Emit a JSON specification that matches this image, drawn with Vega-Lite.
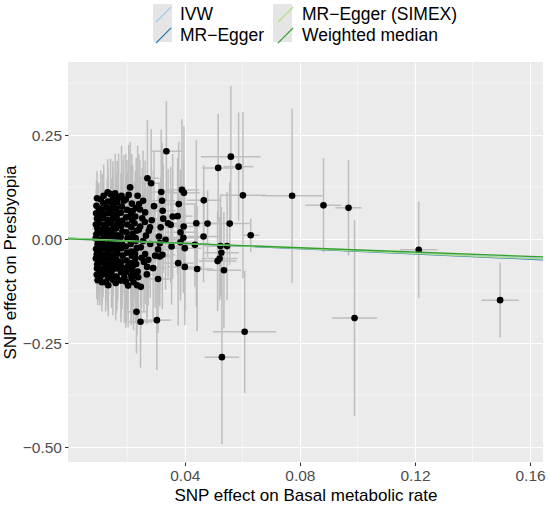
{
  "$schema": "https://vega.github.io/schema/vega-lite/v6.json",
  "width": 475,
  "height": 400,
  "autosize": {"type": "none"},
  "padding": {"left": 68, "top": 62, "right": 7, "bottom": 44},
  "background": "white",
  "config": {
    "font": "Liberation Sans",
    "view": {"fill": "#EBEBEB", "stroke": null},
    "axis": {
      "domain": false,
      "gridColor": "white",
      "gridWidth": 1.1,
      "tickColor": "#333333",
      "tickSize": 3.5,
      "tickWidth": 1,
      "labelColor": "#4D4D4D",
      "labelFontSize": 15.5,
      "labelPadding": 3,
      "titleColor": "black",
      "titleFontSize": 17,
      "titleFontWeight": "normal",
      "titlePadding": 3
    },
    "legend": {
      "labelFont": "Liberation Sans",
      "labelFontSize": 17.5,
      "labelColor": "black",
      "padding": 0,
      "gridAlign": "each"
    }
  },
  "datasets": {
    "gx": [{"x": 0.02}, {"x": 0.06}, {"x": 0.10}, {"x": 0.14}],
    "gy": [{"y": 0.375}, {"y": 0.125}, {"y": -0.125}, {"y": -0.375}],
    "keys": [
      {"key": "IVW\u200b", "x": 0.1, "y": 0.1},
      {"key": "MR−Egger\u200b", "x": 0.1, "y": 0.1},
      {"key": "MR−Egger (SIMEX)\u200b", "x": 0.1, "y": 0.1},
      {"key": "Weighted median\u200b", "x": 0.1, "y": 0.1}
    ],
    "fit": [
      {"method": "IVW", "x": -0.0006, "y": 0.0002},
      {"method": "IVW", "x": 0.1645, "y": -0.0459},
      {"method": "MR−Egger", "x": -0.0006, "y": 0.0022},
      {"method": "MR−Egger", "x": 0.1645, "y": -0.0500},
      {"method": "MR−Egger (SIMEX)", "x": -0.0006, "y": 0.0018},
      {"method": "MR−Egger (SIMEX)", "x": 0.1645, "y": -0.0485},
      {"method": "Weighted median", "x": -0.0006, "y": 0.0001},
      {"method": "Weighted median", "x": 0.1645, "y": -0.0430}
    ],
    "snp": [
      {"x": 0.0092, "y": 0.062, "ex": 0.0012, "ey": 0.055},
      {"x": 0.0095, "y": 0.049, "ex": 0.0015, "ey": 0.07},
      {"x": 0.0091, "y": 0.035, "ex": 0.0010, "ey": 0.045},
      {"x": 0.0096, "y": 0.025, "ex": 0.0018, "ey": 0.06},
      {"x": 0.0093, "y": 0.011, "ex": 0.0012, "ey": 0.05},
      {"x": 0.0090, "y": 0.001, "ex": 0.0014, "ey": 0.065},
      {"x": 0.0097, "y": -0.013, "ex": 0.0011, "ey": 0.048},
      {"x": 0.0092, "y": -0.024, "ex": 0.0016, "ey": 0.058},
      {"x": 0.0094, "y": -0.037, "ex": 0.0013, "ey": 0.052},
      {"x": 0.0091, "y": -0.047, "ex": 0.0012, "ey": 0.062},
      {"x": 0.0096, "y": -0.061, "ex": 0.0015, "ey": 0.05},
      {"x": 0.0095, "y": -0.071, "ex": 0.0014, "ey": 0.056},
      {"x": 0.0093, "y": 0.080, "ex": 0.0013, "ey": 0.06},
      {"x": 0.0094, "y": -0.086, "ex": 0.0014, "ey": 0.058},
      {"x": 0.0101, "y": 0.074, "ex": 0.0015, "ey": 0.06},
      {"x": 0.0098, "y": 0.061, "ex": 0.0018, "ey": 0.075},
      {"x": 0.0103, "y": 0.047, "ex": 0.0013, "ey": 0.05},
      {"x": 0.0099, "y": 0.037, "ex": 0.0016, "ey": 0.068},
      {"x": 0.0102, "y": 0.023, "ex": 0.0014, "ey": 0.055},
      {"x": 0.0097, "y": 0.013, "ex": 0.0019, "ey": 0.08},
      {"x": 0.0104, "y": -0.002, "ex": 0.0012, "ey": 0.06},
      {"x": 0.0100, "y": -0.011, "ex": 0.0017, "ey": 0.07},
      {"x": 0.0098, "y": -0.025, "ex": 0.0015, "ey": 0.052},
      {"x": 0.0103, "y": -0.035, "ex": 0.0013, "ey": 0.064},
      {"x": 0.0101, "y": -0.049, "ex": 0.0018, "ey": 0.058},
      {"x": 0.0099, "y": -0.059, "ex": 0.0016, "ey": 0.072},
      {"x": 0.0104, "y": -0.073, "ex": 0.0014, "ey": 0.06},
      {"x": 0.0102, "y": -0.083, "ex": 0.0017, "ey": 0.066},
      {"x": 0.0117, "y": 0.086, "ex": 0.0016, "ey": 0.07},
      {"x": 0.0114, "y": 0.071, "ex": 0.0020, "ey": 0.085},
      {"x": 0.0118, "y": 0.059, "ex": 0.0014, "ey": 0.06},
      {"x": 0.0115, "y": 0.050, "ex": 0.0018, "ey": 0.078},
      {"x": 0.0119, "y": 0.034, "ex": 0.0015, "ey": 0.058},
      {"x": 0.0113, "y": 0.022, "ex": 0.0021, "ey": 0.09},
      {"x": 0.0117, "y": 0.010, "ex": 0.0017, "ey": 0.065},
      {"x": 0.0116, "y": -0.001, "ex": 0.0019, "ey": 0.072},
      {"x": 0.0120, "y": -0.014, "ex": 0.0014, "ey": 0.06},
      {"x": 0.0114, "y": -0.023, "ex": 0.0016, "ey": 0.082},
      {"x": 0.0118, "y": -0.038, "ex": 0.0020, "ey": 0.066},
      {"x": 0.0115, "y": -0.050, "ex": 0.0015, "ey": 0.074},
      {"x": 0.0119, "y": -0.058, "ex": 0.0018, "ey": 0.06},
      {"x": 0.0116, "y": -0.072, "ex": 0.0017, "ey": 0.068},
      {"x": 0.0113, "y": -0.086, "ex": 0.0015, "ey": 0.07},
      {"x": 0.0133, "y": 0.090, "ex": 0.0020, "ey": 0.08},
      {"x": 0.0130, "y": 0.075, "ex": 0.0018, "ey": 0.068},
      {"x": 0.0134, "y": 0.062, "ex": 0.0022, "ey": 0.09},
      {"x": 0.0131, "y": 0.046, "ex": 0.0016, "ey": 0.062},
      {"x": 0.0135, "y": 0.038, "ex": 0.0019, "ey": 0.075},
      {"x": 0.0129, "y": 0.024, "ex": 0.0021, "ey": 0.085},
      {"x": 0.0133, "y": 0.012, "ex": 0.0017, "ey": 0.066},
      {"x": 0.0132, "y": 0.002, "ex": 0.0020, "ey": 0.078},
      {"x": 0.0136, "y": -0.012, "ex": 0.0018, "ey": 0.07},
      {"x": 0.0130, "y": -0.026, "ex": 0.0022, "ey": 0.088},
      {"x": 0.0134, "y": -0.036, "ex": 0.0016, "ey": 0.064},
      {"x": 0.0131, "y": -0.047, "ex": 0.0019, "ey": 0.08},
      {"x": 0.0135, "y": -0.061, "ex": 0.0021, "ey": 0.072},
      {"x": 0.0132, "y": -0.070, "ex": 0.0018, "ey": 0.09},
      {"x": 0.0129, "y": -0.083, "ex": 0.0017, "ey": 0.068},
      {"x": 0.0133, "y": -0.095, "ex": 0.0020, "ey": 0.075},
      {"x": 0.0149, "y": 0.083, "ex": 0.0021, "ey": 0.09},
      {"x": 0.0146, "y": 0.070, "ex": 0.0019, "ey": 0.075},
      {"x": 0.0150, "y": 0.058, "ex": 0.0023, "ey": 0.095},
      {"x": 0.0147, "y": 0.047, "ex": 0.0018, "ey": 0.07},
      {"x": 0.0151, "y": 0.033, "ex": 0.0022, "ey": 0.085},
      {"x": 0.0145, "y": 0.021, "ex": 0.0020, "ey": 0.1},
      {"x": 0.0149, "y": 0.011, "ex": 0.0019, "ey": 0.078},
      {"x": 0.0148, "y": -0.003, "ex": 0.0024, "ey": 0.088},
      {"x": 0.0152, "y": -0.013, "ex": 0.0018, "ey": 0.074},
      {"x": 0.0146, "y": -0.024, "ex": 0.0021, "ey": 0.095},
      {"x": 0.0150, "y": -0.039, "ex": 0.0019, "ey": 0.08},
      {"x": 0.0147, "y": -0.048, "ex": 0.0023, "ey": 0.086},
      {"x": 0.0151, "y": -0.060, "ex": 0.0020, "ey": 0.076},
      {"x": 0.0148, "y": -0.074, "ex": 0.0022, "ey": 0.092},
      {"x": 0.0145, "y": -0.085, "ex": 0.0019, "ey": 0.08},
      {"x": 0.0165, "y": 0.088, "ex": 0.0024, "ey": 0.1},
      {"x": 0.0162, "y": 0.073, "ex": 0.0021, "ey": 0.085},
      {"x": 0.0166, "y": 0.060, "ex": 0.0025, "ey": 0.105},
      {"x": 0.0163, "y": 0.049, "ex": 0.0020, "ey": 0.08},
      {"x": 0.0167, "y": 0.036, "ex": 0.0023, "ey": 0.095},
      {"x": 0.0161, "y": 0.025, "ex": 0.0022, "ey": 0.11},
      {"x": 0.0165, "y": 0.009, "ex": 0.0021, "ey": 0.088},
      {"x": 0.0164, "y": 0.000, "ex": 0.0026, "ey": 0.098},
      {"x": 0.0168, "y": -0.015, "ex": 0.0020, "ey": 0.084},
      {"x": 0.0162, "y": -0.027, "ex": 0.0023, "ey": 0.105},
      {"x": 0.0166, "y": -0.035, "ex": 0.0021, "ey": 0.09},
      {"x": 0.0163, "y": -0.050, "ex": 0.0025, "ey": 0.096},
      {"x": 0.0167, "y": -0.062, "ex": 0.0022, "ey": 0.086},
      {"x": 0.0164, "y": -0.071, "ex": 0.0024, "ey": 0.1},
      {"x": 0.0161, "y": -0.090, "ex": 0.0021, "ey": 0.09},
      {"x": 0.0181, "y": 0.078, "ex": 0.0026, "ey": 0.11},
      {"x": 0.0178, "y": 0.063, "ex": 0.0023, "ey": 0.095},
      {"x": 0.0182, "y": 0.044, "ex": 0.0027, "ey": 0.115},
      {"x": 0.0179, "y": 0.031, "ex": 0.0022, "ey": 0.09},
      {"x": 0.0183, "y": 0.018, "ex": 0.0025, "ey": 0.105},
      {"x": 0.0177, "y": 0.005, "ex": 0.0024, "ey": 0.12},
      {"x": 0.0181, "y": -0.010, "ex": 0.0023, "ey": 0.098},
      {"x": 0.0180, "y": -0.022, "ex": 0.0028, "ey": 0.108},
      {"x": 0.0184, "y": -0.040, "ex": 0.0022, "ey": 0.094},
      {"x": 0.0178, "y": -0.055, "ex": 0.0025, "ey": 0.115},
      {"x": 0.0182, "y": -0.068, "ex": 0.0023, "ey": 0.1},
      {"x": 0.0179, "y": -0.080, "ex": 0.0027, "ey": 0.106},
      {"x": 0.0199, "y": 0.070, "ex": 0.0028, "ey": 0.12},
      {"x": 0.0196, "y": 0.052, "ex": 0.0025, "ey": 0.1},
      {"x": 0.0200, "y": 0.035, "ex": 0.0029, "ey": 0.125},
      {"x": 0.0197, "y": 0.016, "ex": 0.0024, "ey": 0.105},
      {"x": 0.0201, "y": 0.002, "ex": 0.0027, "ey": 0.115},
      {"x": 0.0195, "y": -0.018, "ex": 0.0026, "ey": 0.13},
      {"x": 0.0199, "y": -0.033, "ex": 0.0025, "ey": 0.108},
      {"x": 0.0198, "y": -0.052, "ex": 0.0030, "ey": 0.118},
      {"x": 0.0202, "y": -0.066, "ex": 0.0024, "ey": 0.104},
      {"x": 0.0196, "y": -0.079, "ex": 0.0027, "ey": 0.12},
      {"x": 0.0216, "y": 0.085, "ex": 0.0029, "ey": 0.12},
      {"x": 0.0213, "y": 0.066, "ex": 0.0027, "ey": 0.11},
      {"x": 0.0217, "y": 0.045, "ex": 0.0030, "ey": 0.125},
      {"x": 0.0214, "y": 0.028, "ex": 0.0026, "ey": 0.105},
      {"x": 0.0218, "y": 0.004, "ex": 0.0029, "ey": 0.115},
      {"x": 0.0212, "y": -0.012, "ex": 0.0028, "ey": 0.12},
      {"x": 0.0216, "y": -0.040, "ex": 0.0027, "ey": 0.11},
      {"x": 0.0213, "y": -0.058, "ex": 0.0030, "ey": 0.118},
      {"x": 0.0217, "y": -0.075, "ex": 0.0028, "ey": 0.108},
      {"x": 0.0214, "y": -0.088, "ex": 0.0029, "ey": 0.12},
      {"x": 0.0231, "y": 0.075, "ex": 0.0032, "ey": 0.12},
      {"x": 0.0228, "y": 0.054, "ex": 0.0031, "ey": 0.11},
      {"x": 0.0232, "y": 0.020, "ex": 0.0033, "ey": 0.125},
      {"x": 0.0229, "y": 0.002, "ex": 0.0030, "ey": 0.115},
      {"x": 0.0233, "y": -0.022, "ex": 0.0032, "ey": 0.12},
      {"x": 0.0227, "y": -0.035, "ex": 0.0031, "ey": 0.11},
      {"x": 0.0231, "y": -0.060, "ex": 0.0033, "ey": 0.125},
      {"x": 0.0229, "y": -0.088, "ex": 0.0030, "ey": 0.115},
      {"x": 0.0095, "y": 0.098, "ex": 0.0014, "ey": 0.065},
      {"x": 0.0118, "y": 0.104, "ex": 0.0017, "ey": 0.075},
      {"x": 0.0158, "y": 0.110, "ex": 0.0022, "ey": 0.095},
      {"x": 0.0188, "y": 0.092, "ex": 0.0026, "ey": 0.11},
      {"x": 0.0205, "y": 0.106, "ex": 0.0028, "ey": 0.12},
      {"x": 0.0097, "y": -0.099, "ex": 0.0014, "ey": 0.06},
      {"x": 0.0112, "y": -0.104, "ex": 0.0016, "ey": 0.07},
      {"x": 0.0160, "y": -0.106, "ex": 0.0022, "ey": 0.09},
      {"x": 0.0178, "y": -0.100, "ex": 0.0024, "ey": 0.1},
      {"x": 0.0195, "y": -0.103, "ex": 0.0026, "ey": 0.11},
      {"x": 0.0222, "y": -0.104, "ex": 0.0030, "ey": 0.115},
      {"x": 0.0245, "y": 0.030, "ex": 0.0034, "ey": 0.12},
      {"x": 0.0255, "y": -0.005, "ex": 0.0036, "ey": 0.115},
      {"x": 0.0250, "y": -0.045, "ex": 0.0035, "ey": 0.12},
      {"x": 0.0262, "y": 0.064, "ex": 0.0037, "ey": 0.125},
      {"x": 0.0238, "y": -0.092, "ex": 0.0033, "ey": 0.11},
      {"x": 0.0268, "y": -0.085, "ex": 0.0038, "ey": 0.12},
      {"x": 0.0255, "y": 0.092, "ex": 0.0036, "ey": 0.12},
      {"x": 0.0105, "y": -0.095, "ex": 0.0016, "ey": 0.065},
      {"x": 0.0150, "y": -0.098, "ex": 0.0020, "ey": 0.085},
      {"x": 0.0190, "y": -0.092, "ex": 0.0025, "ey": 0.11},
      {"x": 0.0125, "y": -0.104, "ex": 0.0018, "ey": 0.07},
      {"x": 0.0108, "y": 0.095, "ex": 0.0017, "ey": 0.07},
      {"x": 0.0150, "y": 0.097, "ex": 0.0021, "ey": 0.09},
      {"x": 0.0170, "y": 0.100, "ex": 0.0024, "ey": 0.105},
      {"x": 0.0132, "y": 0.112, "ex": 0.0019, "ey": 0.08},
      {"x": 0.0142, "y": 0.108, "ex": 0.0020, "ey": 0.085},
      {"x": 0.0134, "y": -0.111, "ex": 0.0018, "ey": 0.075},
      {"x": 0.0163, "y": -0.091, "ex": 0.0020, "ey": 0.08},
      {"x": 0.0180, "y": 0.104, "ex": 0.0026, "ey": 0.12},
      {"x": 0.0203, "y": -0.112, "ex": 0.0025, "ey": 0.1},
      {"x": 0.0234, "y": -0.111, "ex": 0.0030, "ey": 0.12},
      {"x": 0.0215, "y": -0.095, "ex": 0.0028, "ey": 0.11},
      {"x": 0.0210, "y": 0.124, "ex": 0.0030, "ey": 0.11},
      {"x": 0.0270, "y": 0.146, "ex": 0.0040, "ey": 0.14},
      {"x": 0.0283, "y": 0.134, "ex": 0.0042, "ey": 0.13},
      {"x": 0.0318, "y": 0.113, "ex": 0.0045, "ey": 0.15},
      {"x": 0.0390, "y": 0.118, "ex": 0.0060, "ey": 0.17},
      {"x": 0.0397, "y": 0.111, "ex": 0.0055, "ey": 0.16},
      {"x": 0.0236, "y": 0.104, "ex": 0.0035, "ey": 0.12},
      {"x": 0.0195, "y": 0.095, "ex": 0.0027, "ey": 0.11},
      {"x": 0.0321, "y": 0.092, "ex": 0.0045, "ey": 0.14},
      {"x": 0.0241, "y": 0.084, "ex": 0.0035, "ey": 0.12},
      {"x": 0.0379, "y": 0.084, "ex": 0.0055, "ey": 0.15},
      {"x": 0.0293, "y": 0.079, "ex": 0.0040, "ey": 0.13},
      {"x": 0.0323, "y": 0.068, "ex": 0.0045, "ey": 0.14},
      {"x": 0.0219, "y": 0.068, "ex": 0.0030, "ey": 0.11},
      {"x": 0.0244, "y": 0.071, "ex": 0.0033, "ey": 0.12},
      {"x": 0.0325, "y": 0.049, "ex": 0.0045, "ey": 0.13},
      {"x": 0.0358, "y": 0.054, "ex": 0.0050, "ey": 0.15},
      {"x": 0.0375, "y": 0.055, "ex": 0.0052, "ey": 0.14},
      {"x": 0.0342, "y": 0.038, "ex": 0.0048, "ey": 0.13},
      {"x": 0.0396, "y": 0.030, "ex": 0.0058, "ey": 0.16},
      {"x": 0.0316, "y": 0.028, "ex": 0.0044, "ey": 0.12},
      {"x": 0.0351, "y": 0.034, "ex": 0.0050, "ey": 0.14},
      {"x": 0.0385, "y": 0.016, "ex": 0.0054, "ey": 0.15},
      {"x": 0.0395, "y": 0.003, "ex": 0.0056, "ey": 0.13},
      {"x": 0.0279, "y": 0.028, "ex": 0.0040, "ey": 0.12},
      {"x": 0.0261, "y": 0.041, "ex": 0.0038, "ey": 0.11},
      {"x": 0.0310, "y": 0.006, "ex": 0.0044, "ey": 0.13},
      {"x": 0.0333, "y": -0.002, "ex": 0.0046, "ey": 0.12},
      {"x": 0.0354, "y": -0.018, "ex": 0.0050, "ey": 0.14},
      {"x": 0.0400, "y": -0.022, "ex": 0.0058, "ey": 0.15},
      {"x": 0.0322, "y": -0.038, "ex": 0.0045, "ey": 0.13},
      {"x": 0.0377, "y": -0.058, "ex": 0.0053, "ey": 0.15},
      {"x": 0.0400, "y": -0.067, "ex": 0.0060, "ey": 0.14},
      {"x": 0.0307, "y": -0.096, "ex": 0.0044, "ey": 0.13},
      {"x": 0.0313, "y": -0.010, "ex": 0.0044, "ey": 0.12},
      {"x": 0.0307, "y": -0.025, "ex": 0.0043, "ey": 0.13},
      {"x": 0.0313, "y": -0.042, "ex": 0.0045, "ey": 0.12},
      {"x": 0.0385, "y": -0.008, "ex": 0.0055, "ey": 0.14},
      {"x": 0.0269, "y": -0.067, "ex": 0.0038, "ey": 0.12},
      {"x": 0.0273, "y": -0.050, "ex": 0.0038, "ey": 0.11},
      {"x": 0.0247, "y": -0.115, "ex": 0.0034, "ey": 0.1},
      {"x": 0.0232, "y": -0.175, "ex": 0.0035, "ey": 0.1},
      {"x": 0.0246, "y": -0.199, "ex": 0.0040, "ey": 0.11},
      {"x": 0.0303, "y": -0.195, "ex": 0.0050, "ey": 0.12},
      {"x": 0.0212, "y": 0.056, "ex": 0.0030, "ey": 0.1},
      {"x": 0.0225, "y": 0.038, "ex": 0.0032, "ey": 0.1},
      {"x": 0.0218, "y": 0.012, "ex": 0.0030, "ey": 0.09},
      {"x": 0.0230, "y": -0.005, "ex": 0.0033, "ey": 0.11},
      {"x": 0.0214, "y": -0.030, "ex": 0.0029, "ey": 0.1},
      {"x": 0.0228, "y": -0.046, "ex": 0.0032, "ey": 0.105},
      {"x": 0.0220, "y": -0.064, "ex": 0.0031, "ey": 0.1},
      {"x": 0.0240, "y": 0.022, "ex": 0.0034, "ey": 0.11},
      {"x": 0.0252, "y": 0.050, "ex": 0.0036, "ey": 0.12},
      {"x": 0.0247, "y": -0.020, "ex": 0.0035, "ey": 0.11},
      {"x": 0.0258, "y": -0.055, "ex": 0.0036, "ey": 0.12},
      {"x": 0.0236, "y": -0.078, "ex": 0.0034, "ey": 0.11},
      {"x": 0.0265, "y": 0.008, "ex": 0.0037, "ey": 0.115},
      {"x": 0.0262, "y": -0.036, "ex": 0.0037, "ey": 0.12},
      {"x": 0.0280, "y": -0.012, "ex": 0.0040, "ey": 0.13},
      {"x": 0.0285, "y": 0.045, "ex": 0.0041, "ey": 0.12},
      {"x": 0.0290, "y": -0.070, "ex": 0.0042, "ey": 0.13},
      {"x": 0.0275, "y": 0.020, "ex": 0.0039, "ey": 0.12},
      {"x": 0.0297, "y": -0.040, "ex": 0.0043, "ey": 0.125},
      {"x": 0.0336, "y": 0.211, "ex": 0.0052, "ey": 0.12},
      {"x": 0.0466, "y": 0.093, "ex": 0.0060, "ey": 0.085},
      {"x": 0.0440, "y": 0.038, "ex": 0.0055, "ey": 0.2},
      {"x": 0.0479, "y": 0.037, "ex": 0.0060, "ey": 0.08},
      {"x": 0.0556, "y": 0.037, "ex": 0.0070, "ey": 0.1},
      {"x": 0.0465, "y": 0.006, "ex": 0.0058, "ey": 0.11},
      {"x": 0.0629, "y": 0.009, "ex": 0.0030, "ey": 0.04},
      {"x": 0.0435, "y": -0.014, "ex": 0.0055, "ey": 0.1},
      {"x": 0.0524, "y": -0.017, "ex": 0.0062, "ey": 0.12},
      {"x": 0.0547, "y": -0.017, "ex": 0.0065, "ey": 0.13},
      {"x": 0.0527, "y": -0.033, "ex": 0.0060, "ey": 0.11},
      {"x": 0.0521, "y": -0.047, "ex": 0.0062, "ey": 0.1},
      {"x": 0.0514, "y": -0.053, "ex": 0.0065, "ey": 0.12},
      {"x": 0.0536, "y": -0.075, "ex": 0.0060, "ey": 0.14},
      {"x": 0.0443, "y": -0.072, "ex": 0.0055, "ey": 0.15},
      {"x": 0.0560, "y": 0.198, "ex": 0.0104, "ey": 0.17},
      {"x": 0.0516, "y": 0.171, "ex": 0.0055, "ey": 0.13},
      {"x": 0.0587, "y": 0.174, "ex": 0.0052, "ey": 0.13},
      {"x": 0.0602, "y": 0.105, "ex": 0.0080, "ey": 0.2},
      {"x": 0.0773, "y": 0.104, "ex": 0.0105, "ey": 0.21},
      {"x": 0.0882, "y": 0.081, "ex": 0.0063, "ey": 0.113},
      {"x": 0.0969, "y": 0.075, "ex": 0.0046, "ey": 0.115},
      {"x": 0.0990, "y": -0.190, "ex": 0.0079, "ey": 0.235},
      {"x": 0.1213, "y": -0.026, "ex": 0.0065, "ey": 0.116},
      {"x": 0.1496, "y": -0.147, "ex": 0.0065, "ey": 0.09},
      {"x": 0.0529, "y": -0.284, "ex": 0.0060, "ey": 0.209},
      {"x": 0.0608, "y": -0.223, "ex": 0.0110, "ey": 0.147}
    ]
  },
  "layer": [
    {
      "data": {"name": "gx"},
      "mark": {"type": "rule", "color": "white", "strokeWidth": 0.55},
      "encoding": {
        "x": {
          "field": "x",
          "type": "quantitative",
          "title": "SNP effect on Basal metabolic rate",
          "scale": {"domain": [-0.0006, 0.1645], "nice": false, "zero": false},
          "axis": {"values": [0.04, 0.08, 0.12, 0.16], "format": ".2f"}
        }
      }
    },
    {
      "data": {"name": "gy"},
      "mark": {"type": "rule", "color": "white", "strokeWidth": 0.55},
      "encoding": {
        "y": {
          "field": "y",
          "type": "quantitative",
          "title": "SNP effect on Presbyopia",
          "scale": {"domain": [-0.536, 0.4255], "nice": false, "zero": false},
          "axis": {"values": [-0.5, -0.25, 0, 0.25], "format": ".2f"}
        }
      }
    },
    {
      "data": {"name": "snp"},
      "mark": {"type": "errorbar", "color": "#BEBEBE", "thickness": 1.5},
      "encoding": {
        "x": {"field": "x", "type": "quantitative", "title": "SNP effect on Basal metabolic rate"},
        "xError": {"field": "ex"},
        "y": {"field": "y", "type": "quantitative", "title": "SNP effect on Presbyopia"}
      }
    },
    {
      "data": {"name": "snp"},
      "mark": {"type": "errorbar", "color": "#BEBEBE", "thickness": 1.5},
      "encoding": {
        "y": {"field": "y", "type": "quantitative", "title": "SNP effect on Presbyopia"},
        "yError": {"field": "ey"},
        "x": {"field": "x", "type": "quantitative", "title": "SNP effect on Basal metabolic rate"}
      }
    },
    {
      "data": {"name": "snp"},
      "mark": {"type": "circle", "color": "black", "opacity": 1, "size": 44},
      "encoding": {
        "x": {"field": "x", "type": "quantitative", "title": "SNP effect on Basal metabolic rate"},
        "y": {"field": "y", "type": "quantitative", "title": "SNP effect on Presbyopia"}
      }
    },
    {
      "data": {"name": "keys"},
      "mark": {"type": "square", "opacity": 0},
      "encoding": {
        "x": {"field": "x", "type": "quantitative", "title": "SNP effect on Basal metabolic rate"},
        "y": {"field": "y", "type": "quantitative", "title": "SNP effect on Presbyopia"},
        "fill": {
          "field": "key",
          "type": "nominal",
          "scale": {"domain": ["IVW\u200b", "MR−Egger\u200b", "MR−Egger (SIMEX)\u200b", "Weighted median\u200b"], "range": ["#E5E5E5", "#E5E5E5", "#E5E5E5", "#E5E5E5"]},
          "legend": {
            "title": null, "orient": "none", "legendX": 85, "legendY": -58, "columns": 2,
            "columnPadding": 10, "rowPadding": 0, "symbolType": "square", "symbolSize": 361,
            "symbolOpacity": 1, "symbolStrokeWidth": 0, "labelOpacity": 0, "labelOffset": 6, "zindex": 1
          }
        }
      }
    },
    {
      "data": {"name": "fit"},
      "mark": {"type": "line", "strokeWidth": 1.3, "clip": true},
      "encoding": {
        "x": {"field": "x", "type": "quantitative", "title": "SNP effect on Basal metabolic rate"},
        "y": {"field": "y", "type": "quantitative", "title": "SNP effect on Presbyopia"},
        "color": {
          "field": "method",
          "type": "nominal",
          "scale": {"domain": ["IVW", "MR−Egger", "MR−Egger (SIMEX)", "Weighted median"], "range": ["#A6CEE3", "#1F78B4", "#B2DF8A", "#33A02C"]},
          "legend": {
            "title": null, "orient": "none", "legendX": 85, "legendY": -58, "columns": 2,
            "columnPadding": 10, "rowPadding": 0, "symbolType": "M-0.8,0.8L0.8,-0.8", "symbolSize": 361,
            "symbolStrokeWidth": 1.3, "labelOffset": 6, "zindex": 2
          }
        }
      }
    }
  ]
}
